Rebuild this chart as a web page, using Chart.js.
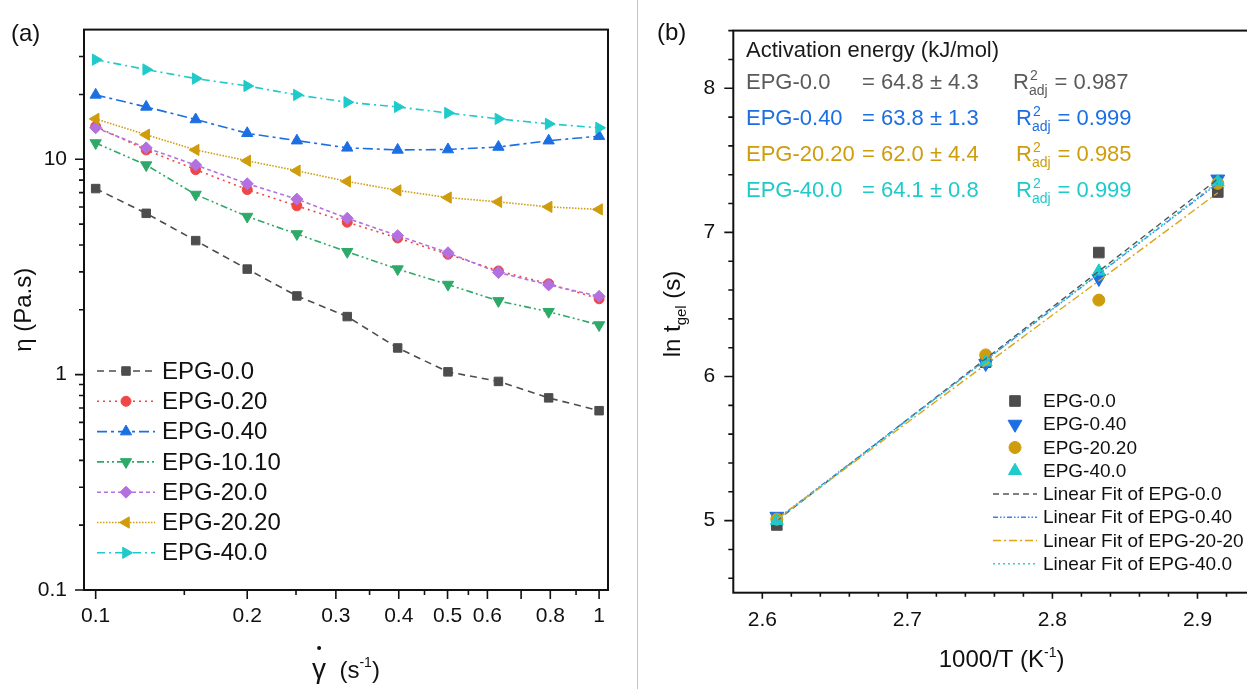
<!DOCTYPE html>
<html>
<head>
<meta charset="utf-8">
<script src="https://cdn.jsdelivr.net/npm/chart.js@4.4.1/dist/chart.umd.min.js"></script>
<style>
  html, body { margin: 0; padding: 0; background: #fff; overflow: hidden; }
  #page { position: relative; width: 1247px; height: 689px; overflow: hidden; background: #fff; }
  #divider { position: absolute; left: 637px; top: 0; width: 1px; height: 689px; background: #c4c4c4; }
  #chartA { position: absolute; left: 0; top: 0; }
  #chartB { position: absolute; left: 637px; top: 0; }
  .tag { position: absolute; font: 24px 'Liberation Sans', Arial, sans-serif; color: #111; line-height: 28px; }
</style>
</head>
<body>
<div id="page">
  <div id="divider"></div>
  <canvas id="chartA" width="636" height="689"></canvas>
  <canvas id="chartB" width="645" height="689"></canvas>
  <div class="tag" style="left:11px; top:19px;">(a)</div>
  <div class="tag" style="left:657px; top:18px;">(b)</div>
</div>
<script>
const FONT = "'Liberation Sans', Arial, sans-serif";
Chart.defaults.font.family = FONT;
Chart.defaults.color = '#111';

// --- (a) viscosity vs shear rate ---
const shearRate  = [0.1, 0.126, 0.158, 0.2, 0.251, 0.316, 0.398, 0.501, 0.631, 0.794, 1.0];
const etaEPG00   = [7.31, 5.61, 4.19, 3.09, 2.32, 1.86, 1.33, 1.03, 0.93, 0.78, 0.68];
const etaEPG020  = [14.2, 11.05, 8.95, 7.23, 6.08, 5.1, 4.31, 3.62, 3.03, 2.64, 2.25];
const etaEPG040  = [19.9, 17.5, 15.3, 13.2, 12.2, 11.3, 11.05, 11.1, 11.4, 12.2, 12.8];
const etaEPG1010 = [11.9, 9.4, 6.86, 5.42, 4.5, 3.72, 3.09, 2.62, 2.2, 1.96, 1.70];
const etaEPG200  = [14.0, 11.3, 9.4, 7.7, 6.53, 5.32, 4.42, 3.68, 2.98, 2.61, 2.31];
const etaEPG2020 = [15.4, 13.0, 11.05, 9.84, 8.85, 7.89, 7.17, 6.64, 6.34, 6.01, 5.85];
const etaEPG400  = [29.0, 26.1, 23.7, 21.9, 19.9, 18.4, 17.5, 16.4, 15.4, 14.6, 14.0];

const shearTicks = [0.1, 0.2, 0.3, 0.4, 0.5, 0.6, 0.8, 1];
const shearTickLabels = ['0.1', '0.2', '0.3', '0.4', '0.5', '0.6', '0.8', '1'];
const shearMinorTicks = [0.15, 0.25, 0.35, 0.45, 0.55, 0.9];
const shearExtraMajor = [0.7];
const etaTicks = [0.1, 1, 10];
const etaTickLabels = ['0.1', '1', '10'];
const etaMinorTicks = [0.2, 0.3, 0.4, 0.5, 0.6, 0.7, 0.8, 0.9, 2, 3, 4, 5, 6, 7, 8, 9, 20, 30];

// --- (b) Arrhenius plot of gel time ---
const invTemp       = [2.610, 2.754, 2.832, 2.914];
const lnTgelEPG00   = [4.97, 6.10, 6.86, 7.28];
const lnTgelEPG040  = [5.03, 6.09, 6.68, 7.37];
const lnTgelEPG2020 = [5.01, 6.15, 6.53, 7.34];
const lnTgelEPG400  = [5.00, 6.10, 6.73, 7.35];
const fitRange      = [2.610, 2.914];
const fitEPG00      = [5.00, 7.37];
const fitEPG040     = [5.01, 7.34];
const fitEPG2020    = [5.01, 7.275];
const fitEPG400     = [5.00, 7.35];

const invTempTicks = [2.6, 2.7, 2.8, 2.9];
const invTempTickLabels = ['2.6', '2.7', '2.8', '2.9'];
const invTempMinorTicks = [2.62, 2.64, 2.66, 2.68, 2.72, 2.74, 2.76, 2.78, 2.82, 2.84, 2.86, 2.88, 2.92, 2.94];
const lnTicks = [5, 6, 7, 8];
const lnTickLabels = ['5', '6', '7', '8'];
const lnMinorTicks = [4.6, 4.8, 5.2, 5.4, 5.6, 5.8, 6.2, 6.4, 6.6, 6.8, 7.2, 7.4, 7.6, 7.8, 8.2, 8.4];

const eaSamples = ['EPG-0.0', 'EPG-0.40', 'EPG-20.20', 'EPG-40.0'];
const eaValues  = ['= 64.8 ± 4.3', '= 63.8 ± 1.3', '= 62.0 ± 4.4', '= 64.1 ± 0.8'];
const r2Values  = ['= 0.987', '= 0.999', '= 0.985', '= 0.999'];

const GRAY = '#4d4d4d', RED = '#f04646', BLUE = '#1c6fe3', GREEN = '#2eaa68',
      PURPLE = '#b371e0', GOLD = '#cf9c0c', CYAN = '#1fcaca';

// draw a run of text pieces [text, size, dy] starting at x (or centred on x)
function drawRuns(ctx, x, y, runs, center) {
    let total = 0;
    const widths = runs.map(r => {
        ctx.font = r[1] + 'px ' + FONT;
        const w = ctx.measureText(r[0]).width;
        total += w;
        return w;
    });
    let cx = center ? x - total / 2 : x;
    const starts = [];
    runs.forEach((r, i) => {
        ctx.font = r[1] + 'px ' + FONT;
        starts.push(cx);
        ctx.fillText(r[0], cx, y + r[2]);
        cx += widths[i];
    });
    return { starts, widths };
}

// frame round the plot area plus outward tick marks
const frameTicks = {
    id: 'frameTicks',
    afterDraw(chart) {
        const t = chart.options.tickMarks;
        if (!t) return;
        const { ctx, chartArea: a, scales } = chart;
        ctx.save();
        ctx.strokeStyle = '#111';
        ctx.lineWidth = 1.6;
        ctx.setLineDash([]);
        ctx.beginPath();
        t.x.forEach(([vals, len]) => vals.forEach(v => {
            const px = scales.x.getPixelForValue(v);
            ctx.moveTo(px, a.bottom); ctx.lineTo(px, a.bottom + len);
        }));
        t.y.forEach(([vals, len]) => vals.forEach(v => {
            const py = scales.y.getPixelForValue(v);
            ctx.moveTo(a.left, py); ctx.lineTo(a.left - len, py);
        }));
        ctx.stroke();
        ctx.lineWidth = 2;
        ctx.strokeRect(a.left, a.top, a.right - a.left, a.bottom - a.top);
        ctx.restore();
    }
};

function drawLegendRow(ctx, ds, y, lineX0, lineX1, markerX, textX, fontSize, showLine, showMarker) {
    if (showLine) {
        ctx.strokeStyle = ds.borderColor;
        ctx.lineWidth = ds.borderWidth;
        ctx.setLineDash(ds.borderDash || []);
        ctx.beginPath();
        ctx.moveTo(lineX0, y); ctx.lineTo(lineX1, y);
        ctx.stroke();
    }
    if (showMarker) {
        ctx.setLineDash([]);
        ctx.fillStyle = ds.pointBackgroundColor;
        ctx.strokeStyle = ds.pointBorderColor;
        ctx.lineWidth = 1;
        Chart.helpers.drawPoint(ctx, {
            pointStyle: ds.pointStyle, rotation: ds.pointRotation || 0,
            radius: ds.pointRadius, borderWidth: 1
        }, markerX, y);
    }
    ctx.fillStyle = '#111';
    ctx.font = fontSize + 'px ' + FONT;
    ctx.textBaseline = 'middle';
    ctx.fillText(ds.label, textX, y + 1);
    ctx.textBaseline = 'alphabetic';
}

// --- Chart (a) ---
function seriesA(label, values, color, dash, style, rot, radius, order) {
    return {
        label, order,
        data: shearRate.map((x, i) => ({ x, y: values[i] })),
        borderColor: color, backgroundColor: color, borderWidth: 1.6, borderDash: dash,
        pointStyle: style, pointRotation: rot, pointRadius: radius,
        pointBackgroundColor: color, pointBorderColor: color, pointBorderWidth: 1,
        tension: 0, fill: false
    };
}

const legendA = {
    id: 'legendA',
    afterDraw(chart) {
        const ctx = chart.ctx;
        ctx.save();
        chart.data.datasets.forEach((ds, i) => {
            drawLegendRow(ctx, ds, 371 + i * 30.3, 97, 155, 126, 162, 24, true, true);
        });
        // axis titles
        ctx.fillStyle = '#111';
        const a = chart.chartArea;
        const cx = (a.left + a.right) / 2;
        const r = drawRuns(ctx, cx, 678, [['γ', 28, 0], ['  (s', 24, 0], ['-1', 14, -11], [')', 24, 0]], true);
        ctx.beginPath();
        ctx.arc(r.starts[0] + r.widths[0] / 2, 648, 2, 0, Math.PI * 2);
        ctx.fill();
        ctx.translate(31, (a.top + a.bottom) / 2);
        ctx.rotate(-Math.PI / 2);
        drawRuns(ctx, 0, 0, [['η (Pa.s)', 24, 0]], true);
        ctx.restore();
    }
};

new Chart(document.getElementById('chartA'), {
    type: 'line',
    data: {
        datasets: [
            seriesA('EPG-0.0', etaEPG00, GRAY, [7, 5], 'rect', 0, 6, 7),
            seriesA('EPG-0.20', etaEPG020, RED, [2, 4], 'circle', 0, 5, 6),
            seriesA('EPG-0.40', etaEPG040, BLUE, [10, 4, 3, 4], 'triangle', 0, 6.5, 5),
            seriesA('EPG-10.10', etaEPG1010, GREEN, [7, 3, 2, 3, 2, 3], 'triangle', 180, 6.5, 4),
            seriesA('EPG-20.0', etaEPG200, PURPLE, [4, 3], 'rectRot', 0, 6, 3),
            seriesA('EPG-20.20', etaEPG2020, GOLD, [1.5, 1.5], 'triangle', 270, 6.5, 2),
            seriesA('EPG-40.0', etaEPG400, CYAN, [8, 4, 2, 4], 'triangle', 90, 6.5, 1)
        ]
    },
    options: {
        responsive: false,
        animation: false,
        layout: { padding: { top: 23, right: 28, left: 0, bottom: 0 } },
        plugins: { legend: { display: false }, tooltip: { enabled: false } },
        tickMarks: {
            x: [[shearTicks, 9], [shearExtraMajor, 9], [shearMinorTicks, 5]],
            y: [[etaTicks, 9], [etaMinorTicks, 5]]
        },
        scales: {
            x: {
                type: 'logarithmic', min: 0.0948, max: 1.0416,
                grid: { display: false, drawTicks: false }, border: { display: false },
                afterBuildTicks: s => { s.ticks = shearTicks.map(v => ({ value: v })); },
                afterFit: s => { s.height = 99; },
                ticks: {
                    autoSkip: false, maxRotation: 0, padding: 14,
                    font: { size: 21 }, color: '#111',
                    callback: (v, i) => shearTickLabels[i]
                }
            },
            y: {
                type: 'logarithmic', min: 0.1, max: 40,
                grid: { display: false, drawTicks: false }, border: { display: false },
                afterBuildTicks: s => { s.ticks = etaTicks.map(v => ({ value: v })); },
                afterFit: s => { s.width = 84; },
                ticks: {
                    autoSkip: false, padding: 17,
                    font: { size: 21 }, color: '#111',
                    callback: (v, i) => etaTickLabels[i]
                }
            }
        }
    },
    plugins: [frameTicks, legendA]
});

// --- Chart (b) ---
function pointsB(label, values, color, style, rot, radius, order) {
    return {
        label, order, showLine: false,
        data: invTemp.map((x, i) => ({ x, y: values[i] })),
        pointStyle: style, pointRotation: rot, pointRadius: radius,
        pointBackgroundColor: color, pointBorderColor: color, pointBorderWidth: 1,
        borderColor: color, backgroundColor: color
    };
}
function fitB(label, values, color, dash, order) {
    return {
        label, order, showLine: true,
        data: fitRange.map((x, i) => ({ x, y: values[i] })),
        pointRadius: 0, borderColor: color, backgroundColor: color,
        borderWidth: 1.4, borderDash: dash
    };
}

const annotB = {
    id: 'annotB',
    afterDraw(chart) {
        const ctx = chart.ctx;
        const a = chart.chartArea;
        ctx.save();
        const ds = chart.data.datasets;
        ds.forEach((d, i) => {
            if (i < 4) drawLegendRow(ctx, d, 401 + i * 23.25, 356, 400, 378, 406, 19, false, true);
            else drawLegendRow(ctx, d, 401 + i * 23.25, 356, 400, 378, 406, 19, true, false);
        });
        // activation energy block
        ctx.fillStyle = '#1a1a1a';
        ctx.font = '22px ' + FONT;
        ctx.fillText('Activation energy (kJ/mol)', 109, 57);
        const rowColors = ['#5a5a5a', BLUE, GOLD, CYAN];
        eaSamples.forEach((s, i) => {
            const y = 89 + i * 36;
            ctx.fillStyle = rowColors[i];
            ctx.font = '22px ' + FONT;
            ctx.fillText(s, 109, y);
            ctx.fillText(eaValues[i], 225, y);
            const rx = i === 0 ? 376 : 379;
            ctx.fillText('R', rx, y);
            const rw = ctx.measureText('R').width;
            ctx.font = '14px ' + FONT;
            ctx.fillText('2', rx + rw + 1, y - 9);
            ctx.fillText('adj', rx + rw, y + 6);
            const aw = ctx.measureText('adj').width;
            ctx.font = '22px ' + FONT;
            ctx.fillText(r2Values[i], rx + rw + aw + 7, y);
        });
        // axis titles
        ctx.fillStyle = '#111';
        drawRuns(ctx, (a.left + a.right) / 2, 667, [['1000/T (K', 24, 0], ['-1', 14, -10], [')', 24, 0]], true);
        ctx.translate(43, 314);
        ctx.rotate(-Math.PI / 2);
        drawRuns(ctx, 0, 0, [['ln t', 24, 0], ['gel', 15, 6], [' (s)', 24, 0]], true);
        ctx.restore();
    }
};

new Chart(document.getElementById('chartB'), {
    type: 'scatter',
    data: {
        datasets: [
            pointsB('EPG-0.0', lnTgelEPG00, GRAY, 'rect', 0, 7.5, 8),
            pointsB('EPG-0.40', lnTgelEPG040, BLUE, 'triangle', 180, 8, 7),
            pointsB('EPG-20.20', lnTgelEPG2020, GOLD, 'circle', 0, 6, 6),
            pointsB('EPG-40.0', lnTgelEPG400, CYAN, 'triangle', 0, 7.5, 5),
            fitB('Linear Fit of EPG-0.0', fitEPG00, '#555555', [6, 4], 4),
            fitB('Linear Fit of EPG-0.40', fitEPG040, '#3d82ec', [5, 2, 1.5, 2, 1.5, 2], 3),
            fitB('Linear Fit of EPG-20-20', fitEPG2020, '#dba51c', [8, 3, 2, 3], 2),
            fitB('Linear Fit of EPG-40.0', fitEPG400, '#2ad4d4', [2, 3], 1)
        ]
    },
    options: {
        responsive: false,
        animation: false,
        layout: { padding: { top: 24.3, right: 12, left: 0, bottom: 0 } },
        plugins: { legend: { display: false }, tooltip: { enabled: false } },
        tickMarks: {
            x: [[invTempTicks, 6], [invTempMinorTicks, 4]],
            y: [[lnTicks, 9], [lnMinorTicks, 5]]
        },
        scales: {
            x: {
                type: 'linear', min: 2.58, max: 2.95,
                grid: { display: false, drawTicks: false }, border: { display: false },
                afterBuildTicks: s => { s.ticks = invTempTicks.map(v => ({ value: v })); },
                afterFit: s => { s.height = 96.3; },
                ticks: {
                    autoSkip: false, maxRotation: 0, padding: 15,
                    font: { size: 21 }, color: '#111',
                    callback: (v, i) => invTempTickLabels[i]
                }
            },
            y: {
                type: 'linear', min: 4.5, max: 8.4,
                grid: { display: false, drawTicks: false }, border: { display: false },
                afterBuildTicks: s => { s.ticks = lnTicks.map(v => ({ value: v })); },
                afterFit: s => { s.width = 96.3; },
                ticks: {
                    autoSkip: false, padding: 18,
                    font: { size: 21 }, color: '#111',
                    callback: (v, i) => lnTickLabels[i]
                }
            }
        }
    },
    plugins: [frameTicks, annotB]
});
</script>
</body>
</html>
